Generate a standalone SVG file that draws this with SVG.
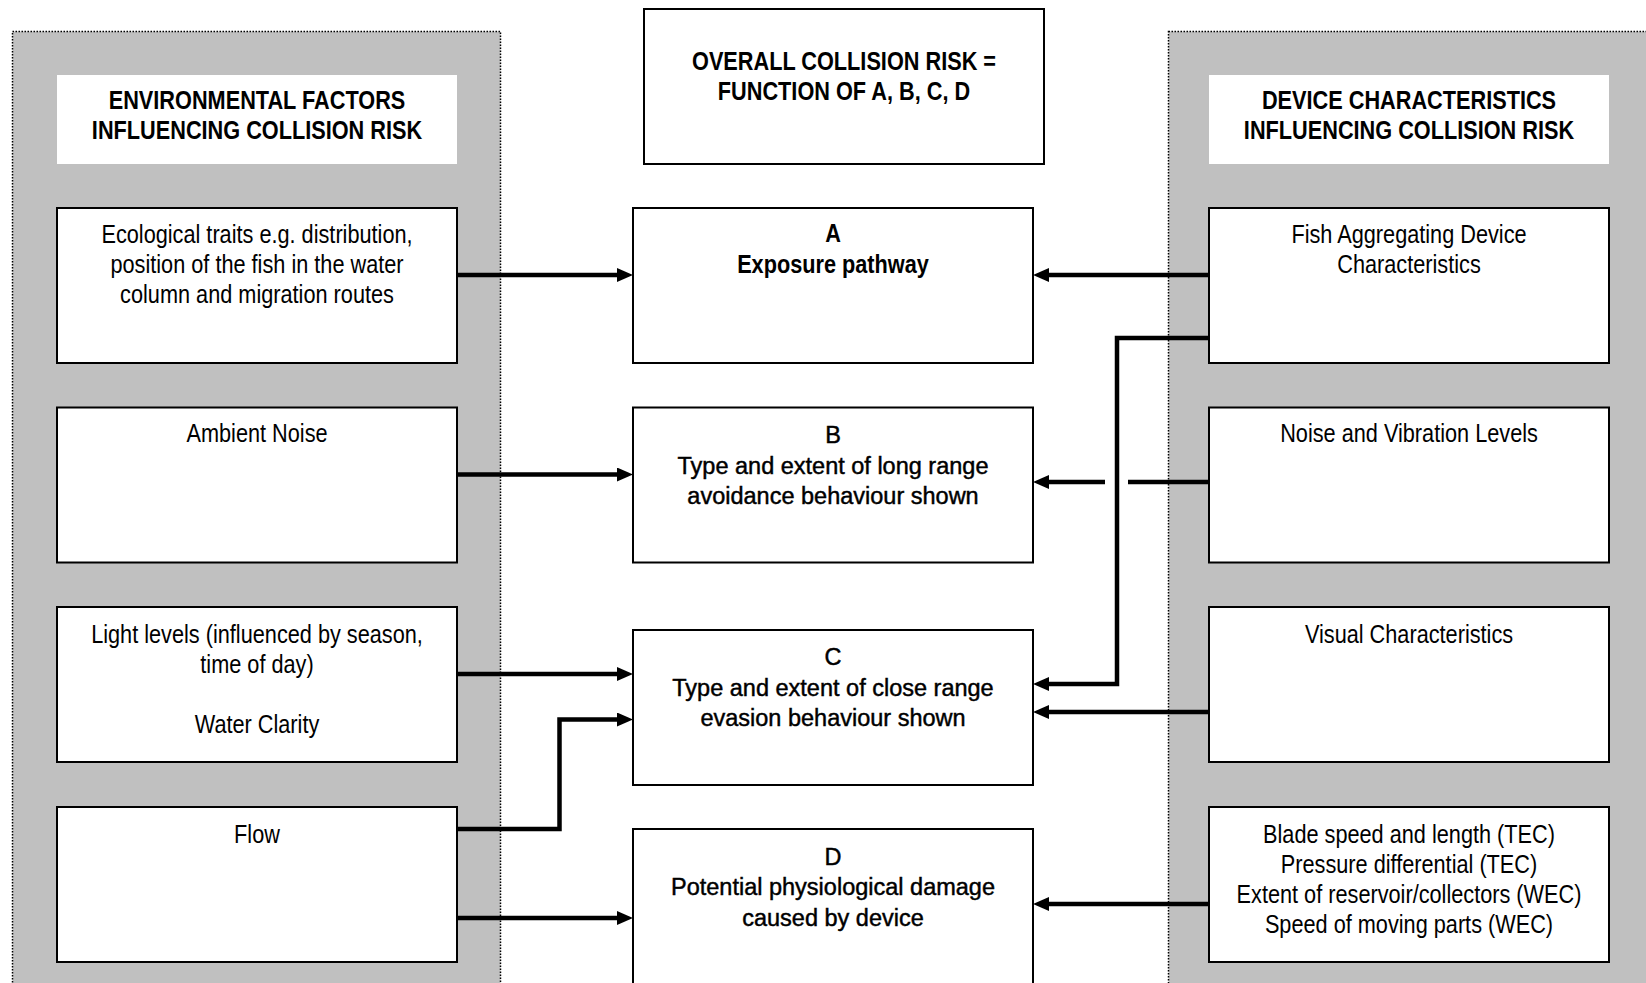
<svg xmlns="http://www.w3.org/2000/svg" width="1646" height="983" viewBox="0 0 1646 983">
<style>
.panel{fill:#c0c0c0;stroke:#000;stroke-width:1.5;stroke-dasharray:1.5 1.5}
.hdr{fill:#fff;stroke:none}
.box{fill:#fff;stroke:#000;stroke-width:2}
.n{font-family:"Liberation Sans",Arial,sans-serif;font-size:26px;fill:#000;text-anchor:middle}
.nb{font-family:"Liberation Sans",Arial,sans-serif;font-size:26px;font-weight:bold;fill:#000;text-anchor:middle}
.w{font-family:"Liberation Sans",Arial,sans-serif;font-size:23.5px;fill:#000;stroke:#000;stroke-width:0.45;text-anchor:middle}
.c{fill:none;stroke:#000;stroke-width:4.5;stroke-linejoin:miter}
</style>
<defs>
<marker id="ah" markerUnits="userSpaceOnUse" markerWidth="16" markerHeight="14" refX="6" refY="7" orient="auto">
<path d="M0,0 L16,7 L0,14 z" fill="#000"/>
</marker>
</defs>
<rect width="1646" height="983" fill="#fff"/>
<g id="panel-left"><rect class="panel" x="12.5" y="31.5" width="488" height="1000"/></g>
<g id="panel-right"><rect class="panel" x="1168.5" y="31.5" width="520" height="1000"/></g>

<g id="hdr-env">
<rect class="hdr" x="57" y="75" width="400" height="89"/>
<g transform="translate(257 0) scale(0.835 1)">
<text class="nb" x="0" y="109">ENVIRONMENTAL FACTORS</text>
<text class="nb" x="0" y="139">INFLUENCING COLLISION RISK</text>
</g>
</g>
<g id="hdr-dev">
<rect class="hdr" x="1209" y="75" width="400" height="89"/>
<g transform="translate(1409 0) scale(0.835 1)">
<text class="nb" x="0" y="109">DEVICE CHARACTERISTICS</text>
<text class="nb" x="0" y="139">INFLUENCING COLLISION RISK</text>
</g>
</g>
<g id="overall">
<rect class="box" x="644" y="9" width="400" height="155"/>
<g transform="translate(844 0) scale(0.835 1)">
<text class="nb" x="0" y="70">OVERALL COLLISION RISK =</text>
<text class="nb" x="0" y="100">FUNCTION OF A, B, C, D</text>
</g>
</g>

<g id="env-ecological">
<rect class="box" x="57" y="208" width="400" height="155"/>
<g transform="translate(257 0) scale(0.835 1)">
<text class="n" x="0" y="243">Ecological traits e.g. distribution,</text>
<text class="n" x="0" y="273">position of the fish in the water</text>
<text class="n" x="0" y="303">column and migration routes</text>
</g>
</g>
<g id="env-ambient">
<rect class="box" x="57" y="407.5" width="400" height="155"/>
<g transform="translate(257 0) scale(0.835 1)">
<text class="n" x="0" y="442.5">Ambient Noise</text>
</g>
</g>
<g id="env-light">
<rect class="box" x="57" y="607" width="400" height="155"/>
<g transform="translate(257 0) scale(0.835 1)">
<text class="n" x="0" y="643">Light levels (influenced by season,</text>
<text class="n" x="0" y="673">time of day)</text>
<text class="n" x="0" y="733">Water Clarity</text>
</g>
</g>
<g id="env-flow">
<rect class="box" x="57" y="807" width="400" height="155"/>
<g transform="translate(257 0) scale(0.835 1)">
<text class="n" x="0" y="843">Flow</text>
</g>
</g>

<g id="risk-a">
<rect class="box" x="633" y="208" width="400" height="155"/>
<g transform="translate(833 0) scale(0.835 1)">
<text class="nb" x="0" y="242">A</text>
<text class="nb" x="0" y="273">Exposure pathway</text>
</g>
</g>
<g id="risk-b">
<rect class="box" x="633" y="407.5" width="400" height="155"/>
<text class="w" x="833" y="443">B</text>
<text class="w" x="833" y="473.5">Type and extent of long range</text>
<text class="w" x="833" y="504">avoidance behaviour shown</text>
</g>
<g id="risk-c">
<rect class="box" x="633" y="630" width="400" height="155"/>
<text class="w" x="833" y="665">C</text>
<text class="w" x="833" y="695.5">Type and extent of close range</text>
<text class="w" x="833" y="726">evasion behaviour shown</text>
</g>
<g id="risk-d">
<rect class="box" x="633" y="829" width="400" height="170"/>
<text class="w" x="833" y="865">D</text>
<text class="w" x="833" y="895">Potential physiological damage</text>
<text class="w" x="833" y="925.5">caused by device</text>
</g>

<g id="dev-fad">
<rect class="box" x="1209" y="208" width="400" height="155"/>
<g transform="translate(1409 0) scale(0.835 1)">
<text class="n" x="0" y="243">Fish Aggregating Device</text>
<text class="n" x="0" y="273">Characteristics</text>
</g>
</g>
<g id="dev-noise">
<rect class="box" x="1209" y="407.5" width="400" height="155"/>
<g transform="translate(1409 0) scale(0.835 1)">
<text class="n" x="0" y="442.5">Noise and Vibration Levels</text>
</g>
</g>
<g id="dev-visual">
<rect class="box" x="1209" y="607" width="400" height="155"/>
<g transform="translate(1409 0) scale(0.835 1)">
<text class="n" x="0" y="643">Visual Characteristics</text>
</g>
</g>
<g id="dev-blade">
<rect class="box" x="1209" y="807" width="400" height="155"/>
<g transform="translate(1409 0) scale(0.835 1)">
<text class="n" x="0" y="843">Blade speed and length (TEC)</text>
<text class="n" x="0" y="873">Pressure differential (TEC)</text>
<text class="n" x="0" y="903">Extent of reservoir/collectors (WEC)</text>
<text class="n" x="0" y="933">Speed of moving parts (WEC)</text>
</g>
</g>

<g id="connectors">
<path class="c" d="M457,275 H623" marker-end="url(#ah)"/>
<path class="c" d="M457,474.5 H623" marker-end="url(#ah)"/>
<path class="c" d="M457,674 H623" marker-end="url(#ah)"/>
<path class="c" d="M457,829 H559.5 V719.5 H623" marker-end="url(#ah)"/>
<path class="c" d="M457,918 H623" marker-end="url(#ah)"/>
<path class="c" d="M1209,275 H1043" marker-end="url(#ah)"/>
<path class="c" d="M1209,338 H1117 V684 H1043" marker-end="url(#ah)"/>
<path class="c" d="M1209,482 H1128"/>
<path class="c" d="M1105,482 H1043" marker-end="url(#ah)"/>
<path class="c" d="M1209,712 H1043" marker-end="url(#ah)"/>
<path class="c" d="M1209,904 H1043" marker-end="url(#ah)"/>
</g>
</svg>
